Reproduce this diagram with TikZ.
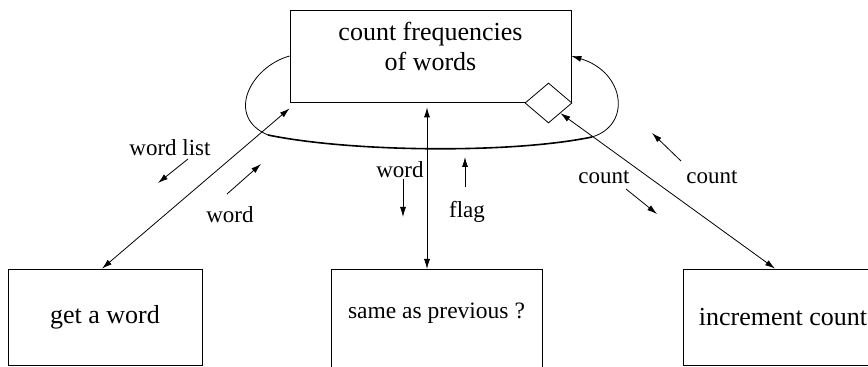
\documentclass[tikz,border=0pt]{standalone}
\usepackage{fontspec}
\setmainfont{Liberation Serif}
\usetikzlibrary{arrows.meta,calc,shapes.geometric}

\begin{document}
\begin{tikzpicture}[
  x=1pt, y=1pt,
  font=\fontsize{26}{30}\selectfont,
  proc/.style={draw, line width=0.8pt, align=center, inner sep=0pt},
  lbl/.style={font=\fontsize{23}{26}\selectfont, inner sep=0pt},
  check/.style={draw, diamond, fill=white, line width=0.8pt, inner sep=0pt, minimum width=47pt, minimum height=40pt},
  arrow/.style={-{Latex[length=10pt,width=6pt]}, line width=0.8pt},
  both/.style={{Latex[length=10pt,width=6pt]}-{Latex[length=10pt,width=6pt]}, line width=0.8pt}
]
\useasboundingbox (0,0) rectangle (868,367);
\node[proc, minimum width=281pt, minimum height=92pt, text height=48pt, text depth=18pt] (freq) at (430.5,311) {count frequencies\\of words};
\node[proc, minimum width=194pt, minimum height=96pt] (getw) at (105,50) {get a word};
\node[proc, font=\fontsize{23.5}{26}\selectfont, minimum width=211pt, minimum height=108pt, text height=16pt, text depth=25pt, anchor=north] (same) at (436.5,98) {same as previous ?};
\node[proc, minimum width=200pt, minimum height=96pt] (inc) at (783,50) {increment count};

% loop round the top box
\coordinate (lc) at (268,232);
\coordinate (rc) at (592,230);
\draw[line width=0.8pt] (freq.west) .. controls (250,300) and (225,250) .. (lc);
\draw[line width=1.6pt] (lc) .. controls (350,215) and (510,213) .. (rc);
\draw[arrow] (rc) .. controls (632,242) and (625,295) .. (freq.east);
\node[check] (cmp) at (548.5,264) {};

\draw[both] ([xshift=-3pt]getw.north) -- ([yshift=-6pt]freq.south west);
\draw[both] ([xshift=-3.5pt,yshift=-5pt]freq.south) -- ([xshift=-9.5pt]same.north);
\draw[both] (cmp.south east) -- ([xshift=-8pt]inc.north);

\node[lbl] (wlist) at (170,219) {word list};
\node[lbl] (wleft) at (230,152) {word};
\node[lbl] (wmid) at (400,197) {word};
\node[lbl] (flag) at (467,155) {flag};
\node[lbl] (cleft) at (604,190) {count};
\node[lbl] (cright) at (712,190) {count};
\draw[arrow] ($(wlist)+(18,-11)$) -- ++(-30,-24);
\draw[arrow] ($(wleft)+(-3,21)$) -- ++(34,30);
\draw[arrow] ($(wmid)+(3,-9)$) -- ++(0,-38);
\draw[arrow] ($(flag)+(-2,25)$) -- ++(0,30);
\draw[arrow] ($(cleft)+(22,-12)$) -- ++(31,-25);
\draw[arrow] ($(cright)+(-31,16)$) -- ++(-29,28);
\end{tikzpicture}
\end{document}
